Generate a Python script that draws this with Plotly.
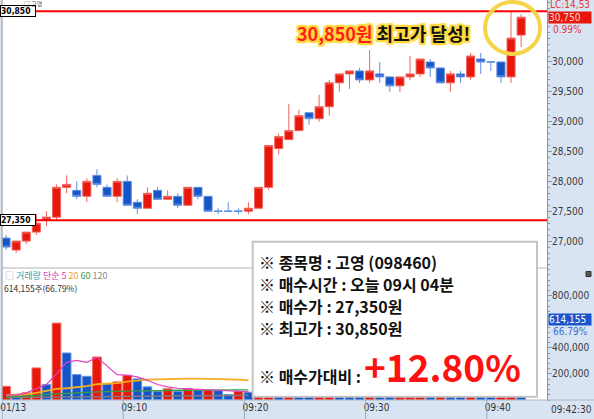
import plotly.graph_objects as go

# ---------------- data ----------------
bar_index = list(range(52))
open_p = [27050, 26850, 27000, 27150, 27350, 27400, 27900, 27850, 27750, 28100,
          27900, 27750, 28000, 27650, 27550, 27850, 27700, 27750, 27600, 27900,
          27750, 27500, 27500, 27500, 27500, 27550, 27900, 28550, 28700, 28850,
          29150, 29050, 29250, 29650, 29800, 29850, 29700, 29800, 29750, 29600,
          29750, 29800, 30000, 29900, 29650, 29800, 29750, 30050, 30000, 30000,
          29750, 30450]
high_p = [27100, 27000, 27150, 27450, 27500, 27950, 28100, 28000, 28050, 28200,
          27950, 28050, 28100, 27700, 27900, 27900, 27850, 27800, 27900, 27900,
          27750, 27550, 27650, 27550, 27650, 27900, 28600, 28800, 29300, 29200,
          29150, 29450, 29700, 29800, 29850, 29900, 30200, 30000, 29750, 29750,
          30100, 30050, 30050, 29900, 29850, 29850, 30150, 30150, 30000, 30000,
          30850, 30800]
low_p = [26850, 26800, 26950, 27100, 27250, 27350, 27800, 27700, 27650, 27900,
         27750, 27650, 27600, 27450, 27550, 27700, 27700, 27550, 27600, 27700,
         27500, 27450, 27500, 27450, 27450, 27550, 27850, 28450, 28700, 28850,
         28950, 29000, 29100, 29500, 29550, 29650, 29650, 29650, 29500, 29500,
         29700, 29750, 29750, 29650, 29500, 29650, 29700, 29800, 29850, 29650,
         29650, 30250]
close_p = [26900, 27000, 27150, 27300, 27400, 27900, 27950, 27750, 28000, 27950,
           27750, 28000, 27600, 27550, 27800, 27700, 27750, 27600, 27900, 27750,
           27500, 27500, 27500, 27500, 27550, 27900, 28600, 28750, 28850, 29100,
           29050, 29250, 29650, 29800, 29850, 29700, 29850, 29750, 29600, 29750,
           29800, 30050, 29900, 29650, 29800, 29750, 30100, 30000, 30000, 29750,
           30400, 30750]
volume = [105000, 34000, 55000, 246000, 118000, 590000, 361000, 195000, 182000, 330000,
          124000, 139000, 190000, 162000, 101000, 67000, 86000, 67000, 86000, 73000,
          74000, 72000, 42000, 67000, 60000, 210000, 880000, 520000, 610000, 430000,
          260000, 340000, 470000, 300000, 210000, 190000, 280000, 170000, 150000, 160000,
          170000, 260000, 180000, 200000, 150000, 110000, 270000, 160000, 90000, 230000,
          919531, 614155]
# volume moving averages, visible part (first 25 bars)
ma5 = [40000, 38000, 55000, 86000, 119000, 200000, 289000, 304000, 289000, 327000,
       264000, 195000, 190000, 177000, 151000, 119000, 101000, 90000, 86000, 80000,
       78000, 75000, 70000, 68000, 62000]
ma20 = [40000, 40000, 44000, 55000, 73000, 86000, 90000, 98000, 106000, 121000,
        124000, 129000, 141000, 151000, 157000, 159000, 162000, 162000, 164000, 164000,
        162000, 162000, 162000, 157000, 151000]
ma60 = [24000, 27000, 29000, 34000, 42000, 47000, 52000, 57000, 60000, 62000,
        64000, 67000, 67000, 70000, 70000, 73000, 73000, 75000, 75000, 75000,
        75000, 78000, 78000, 78000, 78000]
ma120 = [18000, 19000, 20000, 21000, 21000, 22000, 24000, 25000, 26000, 27000,
         28000, 29000, 30000, 31000, 32000, 32000, 33000, 33000, 34000, 34000,
         35000, 35000, 36000, 36000, 37000]

price_ticks = [27000, 27500, 28000, 28500, 29000, 29500, 30000]
vol_ticks = [200000, 400000, 800000]
time_tick_pos = [-0.38, 11.6, 23.6, 35.6, 47.6]
time_tick_labels = ["01/13", "09:10", "09:20", "09:30", "09:40"]
end_time_label = "09:42:30"

stock_name = "고영"
stock_code = "098460"
buy_time = "오늘 09시 04분"
buy_price = 27350
high_price = max(high_p)
last_price = close_p[-1]
last_change_pct = "0.99%"
lc_label = "LC:14,53"
last_vol_pct = volume[-1] / volume[-2] * 100

# ---------------- layout helpers ----------------
W, H = 594, 419
ML, MR, MT, MB = 2, 47, 0, 19
PW, PH = W - ML - MR, H - MT - MB


def px(x):
    return (x - ML) / PW


def py(y):
    return (PH + MT - y) / PH


split = py(268)
RED = "#e8170c"
BLUE = "#1655c8"
BAND = "#d8e4f1"
AXC = "#8796ab"
NARROW = "DejaVu Sans Condensed, Liberation Sans Narrow, sans-serif"
KR = "Noto Sans CJK KR, Noto Sans, sans-serif"

fig = go.Figure()

fig.add_trace(go.Candlestick(
    x=bar_index, open=open_p, high=high_p, low=low_p, close=close_p,
    xaxis="x", yaxis="y",
    increasing=dict(fillcolor=RED, line=dict(color="#f0625a", width=1)),
    decreasing=dict(fillcolor=BLUE, line=dict(color="#5e8fe0", width=1)),
    whiskerwidth=0, showlegend=False, hoverinfo="skip",
))

vol_colors = []
for i, v in enumerate(volume):
    vol_colors.append(RED if i == 0 or v > volume[i - 1] else BLUE)
vol_lines = ["#f26a60" if c == RED else "#6a98e4" for c in vol_colors]

fig.add_trace(go.Bar(
    x=bar_index, y=volume, xaxis="x2", yaxis="y2", width=0.86,
    marker=dict(color=vol_colors, line=dict(color=vol_lines, width=1)),
    showlegend=False, hoverinfo="skip",
))

ma_idx = bar_index[:len(ma5)]
for arr, col, w in [(ma120, "#7f7f7f", 1.4), (ma60, "#35a043", 1.4),
                    (ma20, "#f2ae1c", 1.8), (ma5, "#e43fc0", 1.2)]:
    fig.add_trace(go.Scatter(x=ma_idx, y=arr, xaxis="x2", yaxis="y2", mode="lines",
                             line=dict(color=col, width=w), showlegend=False,
                             hoverinfo="skip"))

xr = [-0.4, 53.56]
axis_font = dict(family=NARROW, size=10, color="#3a3a3a")
fig.update_layout(
    width=W, height=H, template="none",
    margin=dict(l=ML, r=MR, t=MT, b=MB),
    paper_bgcolor=BAND, plot_bgcolor="white",
    boxgap=0.2, boxgroupgap=0,
    xaxis=dict(domain=[0, 1], anchor="y", range=xr, showticklabels=False,
               showgrid=False, zeroline=False, ticks="", showline=False,
               rangeslider=dict(visible=False), automargin=False),
    xaxis2=dict(domain=[0, 1], anchor="y2", matches="x", range=xr,
                tickvals=time_tick_pos, ticktext=time_tick_labels, ticks="",
                ticklabelshift=11, showgrid=False, zeroline=False, showline=False,
                tickfont=dict(family=NARROW, size=10, color="#333333"),
                automargin=False),
    yaxis=dict(domain=[split, 1], anchor="x", side="right",
               range=[26549, 31038], tickvals=price_ticks,
               ticktext=[f"{v:,}" for v in price_ticks],
               ticks="outside", ticklen=4, tickcolor=AXC, ticklabelstandoff=-2,
               minor=dict(ticks="outside", ticklen=2, dtick=100, tickcolor=AXC),
               showline=True, linecolor=AXC, showgrid=False, zeroline=False,
               tickfont=axis_font, automargin=False),
    yaxis2=dict(domain=[0, split], anchor="x2", side="right",
                range=[0, 1013000], tickvals=vol_ticks,
                ticktext=[f"{v:,}" for v in vol_ticks],
                ticks="outside", ticklen=4, tickcolor=AXC, ticklabelstandoff=-2,
                minor=dict(ticks="outside", ticklen=2, dtick=40000, tickcolor=AXC),
                showline=True, linecolor=AXC, showgrid=False, zeroline=False,
                tickfont=axis_font, automargin=False),
)

shapes = []
# key price lines
for p in (high_price, buy_price):
    shapes.append(dict(type="line", xref="paper", yref="y", x0=0, x1=1, y0=p, y1=p,
                       line=dict(color="#ff0000", width=2)))
# panel separator, left border, band top
shapes.append(dict(type="line", xref="paper", yref="paper", x0=0, x1=1, y0=split, y1=split,
                   line=dict(color="#b4b4b4", width=1)))
shapes.append(dict(type="line", xref="paper", yref="paper", x0=0, x1=0, y0=0, y1=1,
                   line=dict(color="#b0b0b0", width=1.5)))
shapes.append(dict(type="line", xref="paper", yref="paper", x0=0, x1=1 + MR / PW, y0=0, y1=0,
                   line=dict(color="#a9b6c8", width=1)))
# time separators in the bottom band
for pos in time_tick_pos:
    shapes.append(dict(type="line", xref="x2", yref="paper", x0=pos, x1=pos,
                       y0=-MB / PH, y1=0, line=dict(color="#9aa7ba", width=1)))
# small icon at top of volume axis
shapes.append(dict(type="rect", xref="paper", yref="paper", x0=px(586), x1=px(591),
                   y0=py(276.5), y1=py(271.5), fillcolor="#555555",
                   line=dict(color="#333333", width=1)))
# yellow ring around the new high
hi_i = high_p.index(high_price)
shapes.append(dict(type="circle", xref="x", yref="y", xsizemode="pixel", ysizemode="pixel",
                   xanchor=hi_i + 0.15, yanchor=high_price - 280,
                   x0=-27.5, x1=27.5, y0=-26, y1=26,
                   line=dict(color="#f6d44a", width=4), layer="above"))
# info box
shapes.append(dict(type="rect", xref="paper", yref="paper", x0=px(252.7), x1=px(537),
                   y0=py(396.7), y1=py(241.7), fillcolor="white",
                   line=dict(color="#c4c4c4", width=2), layer="above"))
fig.update_layout(shapes=shapes)

ann = []
# price labels on the left
for p in (high_price, buy_price):
    ann.append(dict(xref="paper", yref="y", x=0, y=p, xanchor="left", yanchor="middle",
                    xshift=-2, text=f"<b>{p:,}</b>", showarrow=False,
                    font=dict(family=NARROW, size=8.5, color="#000"),
                    bgcolor="white", bordercolor="#000", borderwidth=1, borderpad=0,
                    width=34, align="left"))
# small headers
ann.append(dict(xref="paper", yref="paper", x=px(22), y=py(3.5), xanchor="left", yanchor="middle",
                text=f"□ {stock_name}", showarrow=False,
                font=dict(family=KR, size=6, color="#555")))
ann.append(dict(xref="paper", yref="paper", x=px(3), y=py(275.5), xanchor="left", yanchor="middle",
                text=("<span style='color:#999'>□</span> <span style='color:#2aa3ad'>거래량</span> "
                      "<span style='color:#e040b8'>단순 5</span> <span style='color:#f0a21c'>20</span> "
                      "<span style='color:#3aa045'>60</span> <span style='color:#8a8a8a'>120</span>"),
                showarrow=False, font=dict(family=KR, size=9)))
ann.append(dict(xref="paper", yref="paper", x=px(2), y=py(288), xanchor="left", yanchor="middle",
                text=f"{volume[-1]:,}주({last_vol_pct:.2f}%)", showarrow=False,
                font=dict(family=KR, size=8.5, color="#333")))
# right axis labels
ann.append(dict(xref="paper", yref="paper", x=px(548), y=py(5), xanchor="left", yanchor="middle",
                text=lc_label, showarrow=False, font=dict(family=NARROW, size=10, color="#e03a3a")))
ann.append(dict(xref="paper", yref="y", x=1, y=last_price, xanchor="left", yanchor="middle",
                xshift=1, text=f"{last_price:,}", showarrow=False, width=42, align="left",
                font=dict(family=NARROW, size=10, color="#ffd8d8"), bgcolor=RED, borderpad=0))
ann.append(dict(xref="paper", yref="paper", x=px(551), y=py(29), xanchor="left", yanchor="middle",
                text=last_change_pct, showarrow=False,
                font=dict(family=NARROW, size=10, color="#e03a3a")))
ann.append(dict(xref="paper", yref="y2", x=1, y=volume[-1], xanchor="left", yanchor="middle",
                xshift=1, text=f"{volume[-1]:,}", showarrow=False, width=42, align="left",
                font=dict(family=NARROW, size=10, color="white"), bgcolor="#1a55cc", borderpad=0))
ann.append(dict(xref="paper", yref="paper", x=px(551), y=py(331), xanchor="left", yanchor="middle",
                text=f"{last_vol_pct:.2f}%", showarrow=False,
                font=dict(family=NARROW, size=10, color="#3b6fd6")))
ann.append(dict(xref="paper", yref="paper", x=px(549), y=py(410), xanchor="left", yanchor="middle",
                text=end_time_label, showarrow=False,
                font=dict(family=NARROW, size=10, color="#333")))
# headline
glow = "#ffd83c"
shadow = ", ".join([f"{dx}px {dy}px 1px {glow}" for dx, dy in
                    [(2, 0), (-2, 0), (0, 2), (0, -2), (2, 2), (-2, -2), (2, -2), (-2, 2)]])
ann.append(dict(xref="paper", yref="paper", x=px(383), y=py(33), xanchor="center", yanchor="middle",
                text=f"<b><span style='color:#ff1e1e'>{high_price:,}원</span> 최고가 달성!</b>",
                showarrow=False, font=dict(family=KR, size=18, color="#111", shadow=shadow)))
# info box text
info_lines = [
    f"※ 종목명 : {stock_name} ({stock_code})",
    f"※ 매수시간 : {buy_time}",
    f"※ 매수가 : {buy_price:,}원",
    f"※ 최고가 : {high_price:,}원",
]
for txt, yy in zip(info_lines, [261.7, 283.5, 306, 327.7]):
    ann.append(dict(xref="paper", yref="paper", x=px(257), y=py(yy), xanchor="left", yanchor="middle",
                    text=f"<b>{txt}</b>", showarrow=False,
                    font=dict(family=KR, size=16, color="#111")))
ann.append(dict(xref="paper", yref="paper", x=px(257), y=py(376), xanchor="left", yanchor="middle",
                text="<b>※ 매수가대비 :</b>", showarrow=False,
                font=dict(family=KR, size=16, color="#111")))
gain = (high_price - buy_price) / buy_price * 100
ann.append(dict(xref="paper", yref="paper", x=px(362), y=py(366), xanchor="left", yanchor="middle",
                text=f"<b>+{gain:.2f}%</b>", showarrow=False,
                font=dict(family=KR, size=37, color="#ff1111")))
fig.update_layout(annotations=ann)

fig.write_html("out.html", config={"displayModeBar": False, "staticPlot": True},
               post_script="document.body.style.margin='0px';document.body.style.overflow='hidden';")
